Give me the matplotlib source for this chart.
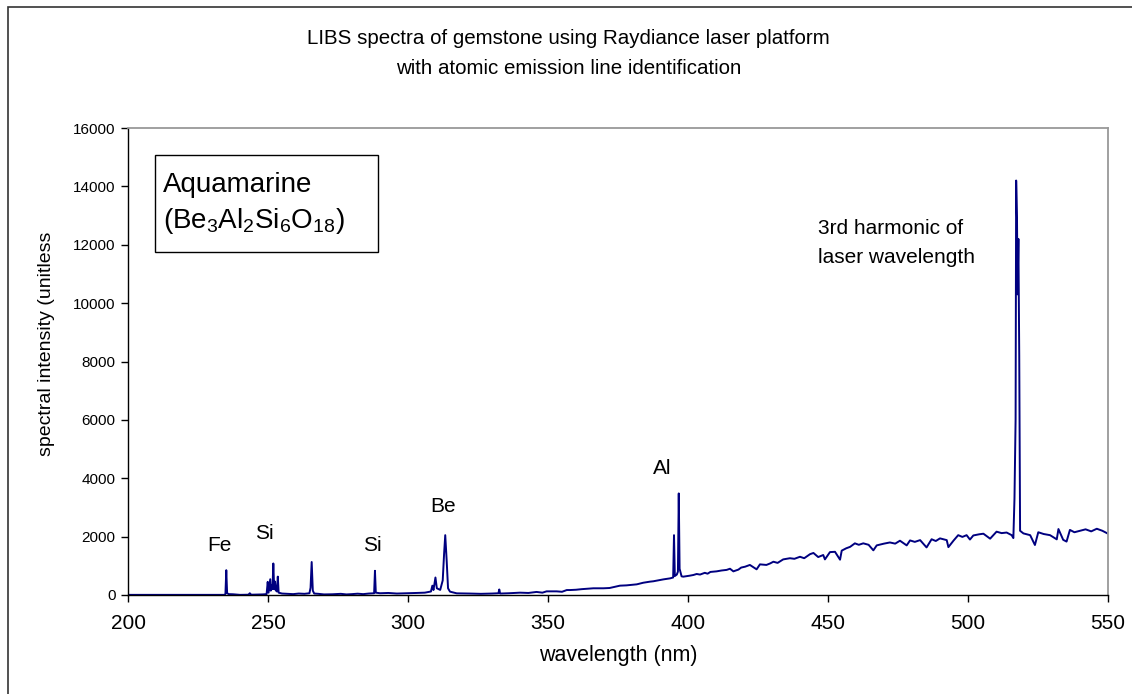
import matplotlib
matplotlib.use("Agg")
import matplotlib.pyplot as plt
from matplotlib.patches import Rectangle

plt.rcParams['font.family'] = ['Liberation Sans', 'DejaVu Sans']
plt.rcParams['mathtext.default'] = 'regular'

# spectrum (nm, unitless intensity)
# 200 - 398 nm: emission lines on a near-flat baseline
wavelength = [
    200, 234.5, 234.8, 235.1, 235.4, 236.0, 237.5, 240, 243.0, 243.5, 244.0,
    246, 248, 249.5, 249.9, 250.2, 250.8, 251.0, 251.3, 251.6, 251.9, 252.2,
    252.5, 252.8, 253.0, 253.2, 253.5, 253.8, 255, 257, 259, 261, 263, 264.8,
    265.2, 265.6, 266.0, 266.5, 268, 270, 273, 276, 278, 280, 282, 284, 286,
    287.9, 288.2, 288.5, 290, 293, 296, 300, 303, 306, 308.2, 308.7, 309.1,
    309.8, 310.3, 311.5, 312.4, 312.9, 313.3, 313.8, 314.3, 315.0, 317.4,
    322, 326, 330, 332.3, 332.6, 332.9, 336, 340, 343, 345.9, 348, 349.5,
    353.1, 355, 356.7, 357.9, 360, 362, 366.2, 369.8, 372, 375.7, 378, 381.7,
    384.0, 386.4, 387.6, 391.2, 393.6, 394.7, 395.0, 395.3, 396.0, 396.4,
    396.7, 397.0, 397.7,
]
intensity = [
    5, 5, 40, 850, 60, 30, 25, 5, 10, 60, 10,
    15, 20, 30, 450, 80, 540, 150, 320, 200, 1080, 200,
    460, 150, 310, 120, 630, 80, 50, 40, 30, 50, 40, 60,
    250, 1130, 150, 50, 40, 20, 25, 40, 20, 30, 45, 30, 50,
    60, 830, 80, 60, 70, 50, 60, 70, 80, 120, 320, 170,
    600, 230, 175, 500, 1430, 2050, 1200, 230, 115, 57,
    50, 40, 50, 60, 190, 50, 60, 80, 70, 105, 80, 125,
    125, 110, 170, 170, 180, 200, 230, 230, 240, 320, 330, 365,
    420, 457, 470, 535, 570, 600, 2050, 650, 700, 800,
    3480, 900, 640,
]

# 398 - 550 nm: rising continuum and the laser harmonic
continuum_nm = [
    398.3, 400.5, 401.9, 403.1, 404.3, 406, 407, 408, 410.2, 412,
    413.8, 415.0, 416.2, 418, 419, 420.4, 422.1, 424.5, 425.7, 428,
    429.3, 430.5, 432, 434.0, 436.4, 438, 440.0, 441.5, 443.6, 444.8,
    446.5, 448.3, 448.9, 450.7, 452.5, 454.3, 454.9, 456.5, 457.9, 459.6,
    461, 462.6, 464.5, 466.2, 467.4, 470, 472.1, 474, 475.7, 478.1,
    479.3, 481, 482.9, 485.2, 487.0, 488.5, 490.0, 492.4, 493.0, 494.8,
    496.5, 498, 499.5, 500.7, 501.9, 504, 505.5, 507.9, 510.2, 512,
    513.8, 515.6, 516.2, 516.6, 517.0, 517.2, 517.5, 517.7, 518.0, 518.3,
    518.6, 519.8, 522.2, 523.9, 525.1, 527, 529.3, 531.7, 532.3, 534.0,
    535.2, 536.4, 538, 540, 542, 544, 546, 548, 550,
]
continuum_int = [
    628, 660, 685, 720, 700, 760, 730, 790, 810, 840,
    860, 900, 810, 870, 940, 970, 1030, 880, 1050, 1030,
    1080, 1140, 1100, 1220, 1260, 1240, 1310, 1260, 1400, 1440,
    1300, 1370, 1220, 1470, 1480, 1210, 1520, 1600, 1650, 1770,
    1720, 1770, 1720, 1530, 1700, 1760, 1800, 1760, 1860, 1700,
    1870, 1820, 1880, 1630, 1910, 1850, 1940, 1880, 1640, 1860,
    2050, 1990, 2050, 1900, 2040, 2080, 2100, 1930, 2170, 2120,
    2140, 2050, 1950, 3310, 6020, 14200, 12900, 10300, 12200, 8200,
    2200, 2110, 2050, 1713, 2150, 2090, 2050, 1907, 2260, 1890,
    1830, 2230, 2150, 2200, 2250, 2180, 2270, 2200, 2100,
]

# element labels on the lines
labels = ['Fe', 'Si', 'Si', 'Be', 'Al']
label_x = [232.5, 248.6, 287.1, 312.5, 390.7]
label_y = [1680, 2124, 1680, 3015, 4317]

xticks = [200, 250, 300, 350, 400, 450, 500, 550]
yticks = [0, 2000, 4000, 6000, 8000, 10000, 12000, 14000, 16000]

fig = plt.figure(figsize=(11.32, 6.94), dpi=100)
ax = fig.add_axes([128 / 1132, 1 - 595 / 694, 980 / 1132, 467 / 694])

ax.plot(wavelength + continuum_nm, intensity + continuum_int, color='#000080', lw=1.4)

ax.set_xlim(200, 550)
ax.set_ylim(0, 16000)
ax.set_xticks(xticks)
ax.set_yticks(yticks)
ax.tick_params(axis='x', direction='out', length=5, width=1, labelsize=15, pad=9)
ax.tick_params(axis='y', direction='out', length=5, width=1, labelsize=11, pad=4)

for side in ['left', 'bottom']:
    ax.spines[side].set_color('black')
    ax.spines[side].set_linewidth(1.0)
for side in ['top', 'right']:
    ax.spines[side].set_color('#999999')
    ax.spines[side].set_linewidth(1.3)

ax.set_xlabel('wavelength (nm)', fontsize=15.5, labelpad=8)
ax.set_ylabel('spectral intensity (unitless', fontsize=14)
ax.yaxis.set_label_coords(-0.0745, 0.5375)

for lab, lx, ly in zip(labels, label_x, label_y):
    ax.text(lx, ly, lab, fontsize=15, ha='center', va='center')

ax.text(446.4, 12060, '3rd harmonic of\nlaser wavelength', fontsize=15,
        ha='left', va='center', linespacing=1.68)

# sample name box
ax.add_patch(Rectangle((0.0276, 0.7345), 0.2275, 0.2077, transform=ax.transAxes,
                       fill=False, edgecolor='black', lw=1.0))
ax.text(0.0357, 0.878, 'Aquamarine', transform=ax.transAxes, fontsize=20,
        ha='left', va='center')
ax.text(0.0357, 0.801, '(Be$_3$Al$_2$Si$_6$O$_{18}$)', transform=ax.transAxes,
        fontsize=20, ha='left', va='center')

fig.text(0.502, 1 - 38 / 694, 'LIBS spectra of gemstone using Raydiance laser platform',
         fontsize=14.8, ha='center', va='center')
fig.text(0.502, 1 - 68 / 694, 'with atomic emission line identification',
         fontsize=14.8, ha='center', va='center')

# outer chart frame
fig.patches.append(Rectangle((8 / 1132, -0.05), 1.1, 1 - 7 / 694 + 0.05,
                             transform=fig.transFigure, fill=False,
                             edgecolor='#333333', lw=1.2))

fig.savefig('out.png', dpi=100)
